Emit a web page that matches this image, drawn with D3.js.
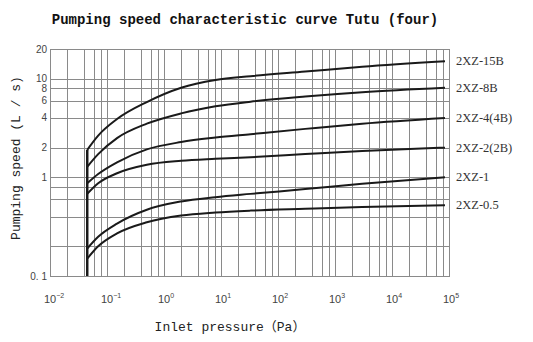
<!DOCTYPE html>
<html><head><meta charset="utf-8">
<script src="https://cdn.jsdelivr.net/npm/d3@7"></script>
<style>body{margin:0;background:#fff}svg{display:block}</style>
</head><body>
<script>
const title = "Pumping speed characteristic curve Tutu (four)";
const xTitle = "Inlet pressure\uFF08Pa\uFF09";
const yTitle = "Pumping speed (L / s)";
const xTickExps = [-2, -1, 0, 1, 2, 3, 4, 5];
const xMinorMult = [2, 4, 6, 8];
const yGridValues = [10, 8, 6, 4, 2, 1, 0.8, 0.6, 0.4, 0.2];
const yTickValues = [20, 10, 8, 6, 4, 2, 1, 0.1];
const yTickLabels = ["20", "10", "8", "6", "4", "2", "1", "0. 1"];
const seriesNames = ["2XZ-15B", "2XZ-8B", "2XZ-4(4B)", "2XZ-2(2B)", "2XZ-1", "2XZ-0.5"];
const pressures = [0.045, 0.07, 0.15, 0.5, 2, 8, 33, 300, 3000, 85000];
const s15B = [1.9, 2.65, 3.9, 5.8, 8.1, 9.7, 10.6, 11.8, 13.2, 15.0];
const s8B  = [1.28, 1.72, 2.5, 3.5, 4.45, 5.25, 5.85, 6.6, 7.3, 8.1];
const s4B  = [0.87, 1.08, 1.42, 1.92, 2.28, 2.53, 2.74, 3.1, 3.5, 4.0];
const s2B  = [0.68, 0.87, 1.1, 1.34, 1.47, 1.54, 1.6, 1.72, 1.85, 2.0];
const s1   = [0.19, 0.25, 0.34, 0.47, 0.57, 0.63, 0.68, 0.76, 0.86, 1.0];
const s05  = [0.15, 0.2, 0.27, 0.35, 0.41, 0.44, 0.46, 0.48, 0.5, 0.52];
const seriesValues = [s15B, s8B, s4B, s2B, s1, s05];
const startPressure = 0.045;

const W = 533, H = 342;
const m = {left: 50, right: 84, top: 49, bottom: 66};
const svg = d3.select("body").append("svg").attr("width", W).attr("height", H);
const x = d3.scaleLog().domain([1e-2, 1e5]).range([m.left, W - m.right]);
const y = d3.scaleLog().domain([0.1, 20]).range([H - m.bottom, m.top]);

// grid
const vLines = [];
xTickExps.forEach(e => { vLines.push(Math.pow(10, e)); if (e < 5) xMinorMult.forEach(k => vLines.push(k * Math.pow(10, e))); });
const g = svg.append("g");
g.selectAll("line.v").data(vLines).enter().append("line")
  .attr("x1", d => Math.round(x(d)) + 0.5).attr("x2", d => Math.round(x(d)) + 0.5)
  .attr("y1", y(20)).attr("y2", y(0.1))
  .attr("stroke", "#8a8a8a").attr("stroke-width", 1);
g.selectAll("line.h").data(yGridValues).enter().append("line")
  .attr("y1", d => Math.round(y(d)) + 0.5).attr("y2", d => Math.round(y(d)) + 0.5)
  .attr("x1", x(1e-2)).attr("x2", x(1e5))
  .attr("stroke", "#8a8a8a").attr("stroke-width", 1);
g.append("rect").attr("x", Math.round(x(1e-2)) + 0.5).attr("y", Math.round(y(20)) + 0.5)
  .attr("width", Math.round(x(1e5) - x(1e-2))).attr("height", Math.round(y(0.1) - y(20)))
  .attr("fill", "none").attr("stroke", "#8a8a8a");

// y tick labels
svg.selectAll("text.yt").data(yTickValues).enter().append("text")
  .attr("x", m.left - 3).attr("y", d => y(d) + 3.5)
  .attr("text-anchor", "end").attr("font-family", "Liberation Sans, Arial, sans-serif")
  .attr("font-size", 10).attr("fill", "#444").text((d, i) => yTickLabels[i]);

// x tick labels
const xt = svg.selectAll("text.xt").data(xTickExps).enter().append("text")
  .attr("x", d => x(Math.pow(10, d)) - 6).attr("y", H - m.bottom + 27)
  .attr("font-family", "Liberation Sans, Arial, sans-serif").attr("font-size", 11).attr("fill", "#444");
xt.append("tspan").text("10");
xt.append("tspan").attr("dy", -5).attr("font-size", 7).text(d => d < 0 ? "\u2212" + (-d) : d);

// curves
const line = d3.line().x(d => x(d[0])).y(d => y(d[1])).curve(d3.curveMonotoneX);
seriesValues.forEach((vals, i) => {
  svg.append("path").datum(pressures.map((p, j) => [p, vals[j]]))
    .attr("d", line).attr("fill", "none").attr("stroke", "#1a1a1a").attr("stroke-width", 2);
  svg.append("text").attr("x", W - m.right + 7).attr("y", y(vals[vals.length - 1]) + 4)
    .attr("font-family", "Liberation Serif, Times New Roman, serif").attr("font-size", 12.5)
    .attr("fill", "#333").text(seriesNames[i]);
});
svg.append("line").attr("x1", x(startPressure)).attr("x2", x(startPressure))
  .attr("y1", y(0.1)).attr("y2", y(s15B[0])).attr("stroke", "#1a1a1a").attr("stroke-width", 2.5);

// titles
svg.append("text").attr("x", 245).attr("y", 24).attr("text-anchor", "middle")
  .attr("font-family", "Liberation Mono, monospace").attr("font-weight", "bold").attr("font-size", 14)
  .attr("fill", "#111").text(title);
svg.append("text").attr("x", 230).attr("y", 331).attr("text-anchor", "middle")
  .attr("font-family", "Liberation Mono, 'Noto Sans CJK SC', monospace").attr("font-size", 13)
  .attr("fill", "#222").text(xTitle);
svg.append("text").attr("transform", "translate(20,158) rotate(-90)").attr("text-anchor", "middle")
  .attr("font-family", "Liberation Mono, monospace").attr("font-size", 13)
  .attr("fill", "#222").text(yTitle);
</script>
</body></html>
